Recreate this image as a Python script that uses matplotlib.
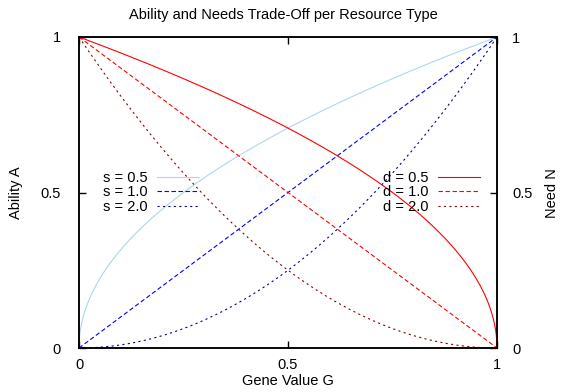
import numpy as np
import matplotlib
matplotlib.use("Agg")
import matplotlib.pyplot as plt

plt.rcParams['font.family'] = ['Liberation Sans', 'DejaVu Sans']

# Data: exponents of the plotted curves (A = G**s, N = (1-G)**d)
s_values = [0.5, 1.0, 2.0]
d_values = [0.5, 1.0, 2.0]
s_labels = ["s = 0.5", "s = 1.0", "s = 2.0"]
d_labels = ["d = 0.5", "d = 1.0", "d = 2.0"]
tick_values = [0, 0.5, 1]
tick_labels = ["0", "0.5", "1"]

s_colors = ["#add8e6", "#0000ff", "#00008b"]
d_colors = ["#ff0000", "#ff0000", "#8b0000"]
lw = 0.8
styles = ["-", (0, (4.0, 2.3)), (0, (1.9, 3.0))]
fs = 10.5

G = np.linspace(0, 1, 2001)

fig = plt.figure(figsize=(5.65, 3.92), dpi=100)
ax = fig.add_axes([79/565, 1-348/392, (497-79)/565, (348-37)/392])
ax2 = ax.twinx()

s_handles = []
for s, lab, c, ls in zip(s_values, s_labels, s_colors, styles):
    h, = ax.plot(G, G**s, color=c, lw=lw, linestyle=ls, label=lab)
    s_handles.append(h)
d_handles = []
for d, lab, c, ls in zip(d_values, d_labels, d_colors, styles):
    h, = ax2.plot(G, (1-G)**d, color=c, lw=lw, linestyle=ls, label=lab)
    d_handles.append(h)

for a in (ax, ax2):
    a.set_xlim(0, 1)
    a.set_ylim(0, 1)
    a.set_xticks(tick_values)
    a.set_xticklabels(tick_labels)
    a.set_yticks(tick_values)
    a.set_yticklabels(tick_labels)
    for sp in a.spines.values():
        sp.set_linewidth(1.1)

ax.tick_params(axis='both', direction='in', length=5, width=1.0, labelsize=fs,
               top=True, right=False)
ax.tick_params(axis='y', pad=13)
ax.tick_params(axis='x', pad=7)
ax2.tick_params(axis='y', direction='in', length=5, width=1.0, labelsize=fs, pad=11)

ax.legend(handles=s_handles, loc='center left', bbox_to_anchor=(0.057, 0.5),
          frameon=False, markerfirst=False, fontsize=fs, handlelength=2.9,
          handletextpad=0.65, labelspacing=0.02, borderpad=0, borderaxespad=0)
ax2.legend(handles=d_handles, loc='center right', bbox_to_anchor=(0.959, 0.5),
           frameon=False, markerfirst=False, fontsize=fs, handlelength=2.85,
           handletextpad=0.65, labelspacing=0.02, borderpad=0, borderaxespad=0)

fig.text(283/565, 1-15/392, "Ability and Needs Trade-Off per Resource Type",
         ha='center', va='center', fontsize=fs)
fig.text(288/565, 1-381/392, "Gene Value G", ha='center', va='center', fontsize=fs)
fig.text(16/565, 1-193/392, "Ability A", ha='center', va='center', rotation=90, fontsize=fs)
fig.text(552/565, 1-193/392, "Need N", ha='center', va='center', rotation=90, fontsize=fs)

fig.savefig("out.png", dpi=100)
